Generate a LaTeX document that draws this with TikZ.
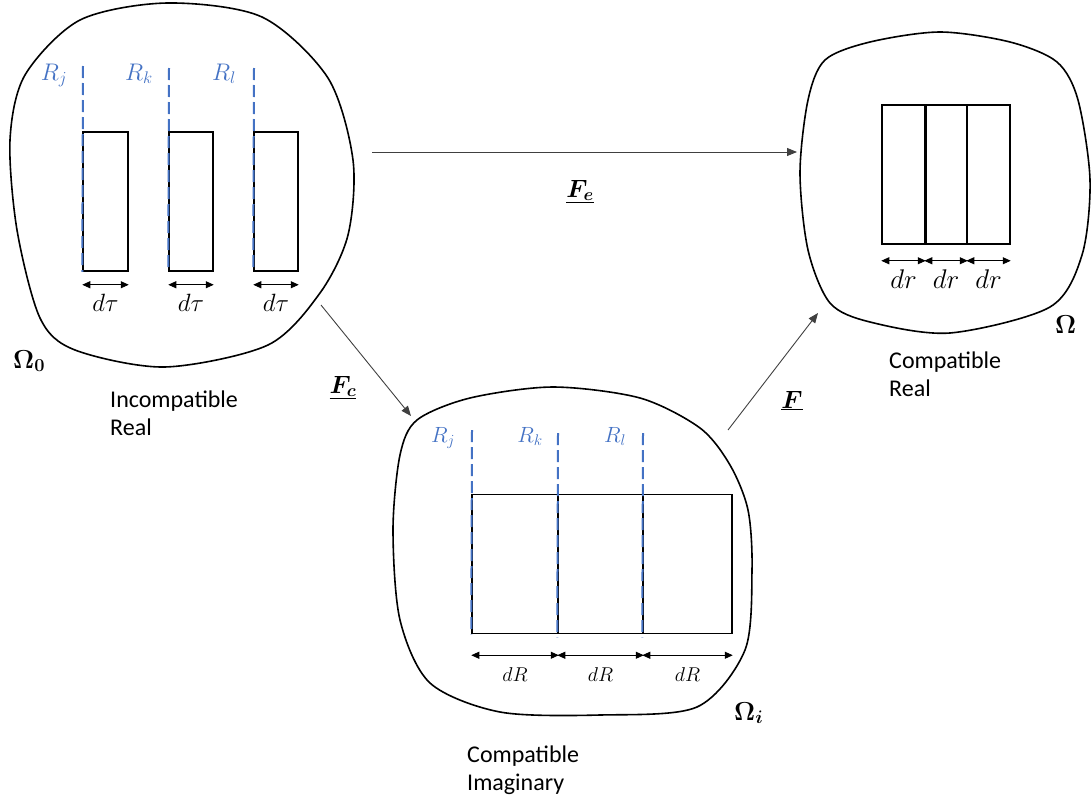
\RequirePackage{fix-cm}
\documentclass[tikz,border=0pt]{standalone}
\usepackage[no-math]{fontspec}
\setmainfont{Carlito}
\usepackage{bm}
\usetikzlibrary{arrows.meta}
\definecolor{refblue}{HTML}{4472C4}
\begin{document}
\begin{tikzpicture}[x=1pt,y=-1pt,
        blob/.style={line width=1.6pt, line join=round},
        cell/.style={draw, line width=1.5pt, minimum height=139pt, inner sep=0pt},
        refline/.style={refblue, line width=2pt, dash pattern=on 12pt off 5pt},
        dim/.style={line width=0.9pt, {Triangle[length=8pt,width=7pt]}-{Triangle[length=8pt,width=7pt]}},
        map/.style={line width=0.9pt, black!75, -{Triangle[length=10pt,width=8pt]}},
        lab/.style={inner sep=0pt, anchor=base, font=\fontsize{24}{28}\selectfont},
        txt/.style={inner sep=0pt, anchor=north west, align=left, font=\fontsize{24}{28}\selectfont}]
        \useasboundingbox (0,0) rectangle (1091,803);

        % incompatible real body
        \draw[blob] plot[smooth cycle] coordinates {(167,3) (262,17) (328,78) (353,160)
                (348,235) (320,293) (268,345) (165,367) (75,350) (40,318) (17,230)
                (10,140) (25,75) (80,20)};
        \node[cell, minimum width=45pt] (a1) at (105.5,201.5) {};
        \node[cell, minimum width=44pt] (a2) at (191,201.5) {};
        \node[cell, minimum width=44pt] (a3) at (276,201.5) {};
        \coordinate (ra1) at (83,66);
        \coordinate (ra2) at (169,68);
        \coordinate (ra3) at (254,68);
        \draw[refline] (ra1) -- (a1.south west);
        \draw[refline] (ra2) -- (a2.south west);
        \draw[refline] (ra3) -- (a3.south west);
        \node[lab, refblue] (rja) at (54,80) {$R_j$};
        \node[lab, refblue] (rka) at (139,80) {$R_k$};
        \node[lab, refblue] (rla) at (224,80) {$R_l$};
        \draw[dim] ([yshift=-13pt]a1.south west) -- ([yshift=-13pt]a1.south east);
        \draw[dim] ([yshift=-13pt]a2.south west) -- ([yshift=-13pt]a2.south east);
        \draw[dim] ([yshift=-13pt]a3.south west) -- ([yshift=-13pt]a3.south east);
        \node[lab, font=\fontsize{25}{29}\selectfont] (dta1) at ([yshift=-40pt]a1.south) {$d\tau$};
        \node[lab, font=\fontsize{25}{29}\selectfont] (dta2) at ([yshift=-40pt]a2.south) {$d\tau$};
        \node[lab, font=\fontsize{25}{29}\selectfont] (dta3) at ([yshift=-40pt]a3.south) {$d\tau$};
        \node[lab, anchor=base west, font=\fontsize{26}{30}\selectfont] (om0) at (13,368) {$\bm{\Omega_0}$};
        \node[txt] (incomp) at (110,391) {Incompatible\\Real};

        % compatible real body
        \draw[blob] plot[smooth cycle] coordinates {(940,32) (1010,42) (1057,62) (1078,100)
                (1090,180) (1082,255) (1050,307) (950,333) (870,322) (830,303) (808,250)
                (800,173) (808,100) (825,60) (870,42)};
        \node[cell, minimum width=43pt] (b1) at (903.5,174.5) {};
        \node[cell, minimum width=42pt] (b2) at (946,174.5) {};
        \node[cell, minimum width=43pt] (b3) at (988.5,174.5) {};
        \draw[line width=1.8pt] (b1.north east) -- (b1.south east);
        \draw[dim] ([yshift=-16pt]b1.south west) -- ([yshift=-16pt]b1.south east);
        \draw[dim] ([yshift=-16pt]b2.south west) -- ([yshift=-16pt]b2.south east);
        \draw[dim] ([yshift=-16pt]b3.south west) -- ([yshift=-16pt]b3.south east);
        \node[lab, font=\fontsize{27}{31}\selectfont] (drb1) at ([yshift=-44pt]b1.south) {$dr$};
        \node[lab, font=\fontsize{27}{31}\selectfont] (drb2) at ([yshift=-44pt]b2.south) {$dr$};
        \node[lab, font=\fontsize{27}{31}\selectfont] (drb3) at ([yshift=-44pt]b3.south) {$dr$};
        \node[lab, anchor=base west, font=\fontsize{26}{30}\selectfont] (om) at (1055,333) {$\bm{\Omega}$};
        \node[txt] (compreal) at (889,352) {Compatible\\Real};

        % compatible imaginary body
        \draw[blob] plot[smooth cycle] coordinates {(553,387) (640,398) (700,428) (730,465)
                (748,510) (752,570) (745,650) (697,707) (600,715) (500,712) (430,683)
                (400,620) (393,530) (400,455) (417,420) (470,398)};
        \node[cell, minimum width=86pt] (c1) at (515,564) {};
        \node[cell, minimum width=85pt] (c2) at (600.5,564) {};
        \node[cell, minimum width=89pt] (c3) at (687.5,564) {};
        \coordinate (rc1) at (472,430);
        \coordinate (rc2) at (558,433);
        \coordinate (rc3) at (643,433);
        \draw[refline] (rc1) -- (c1.south west);
        \draw[refline] (rc2) -- ([yshift=-3pt]c2.south west);
        \draw[refline] (rc3) -- ([yshift=-3pt]c3.south west);
        \node[lab, refblue, font=\fontsize{22}{26}\selectfont] (rjc) at (443,442) {$R_j$};
        \node[lab, refblue, font=\fontsize{22}{26}\selectfont] (rkc) at (530,442) {$R_k$};
        \node[lab, refblue, font=\fontsize{22}{26}\selectfont] (rlc) at (615,442) {$R_l$};
        \draw[dim] ([yshift=-21pt]c1.south west) -- ([yshift=-21pt]c1.south east);
        \draw[dim] ([yshift=-21pt]c2.south west) -- ([yshift=-21pt]c2.south east);
        \draw[dim] ([yshift=-21pt]c3.south west) -- ([yshift=-21pt]c3.south east);
        \node[lab, font=\fontsize{20}{24}\selectfont] (drc1) at ([yshift=-47pt]c1.south) {$dR$};
        \node[lab, font=\fontsize{20}{24}\selectfont] (drc2) at ([yshift=-47pt]c2.south) {$dR$};
        \node[lab, font=\fontsize{20}{24}\selectfont] (drc3) at ([yshift=-47pt]c3.south) {$dR$};
        \node[lab, anchor=base west, font=\fontsize{26}{30}\selectfont] (omi) at (734,720) {$\bm{\Omega_i}$};
        \node[txt] (compimag) at (467,746) {Compatible\\Imaginary};

        % maps between the bodies
        \coordinate (fe0) at (372,152);
        \coordinate (fe1) at (797,152);
        \coordinate (fc0) at (321,305);
        \coordinate (fc1) at (411,416);
        \coordinate (f0) at (728,430);
        \coordinate (f1) at (818,313);
        \draw[map] (fe0) -- (fe1);
        \draw[map] (fc0) -- (fc1);
        \draw[map] (f0) -- (f1);
        \node[lab, font=\fontsize{25}{29}\selectfont] (fe) at (580,197) {$\underline{\bm{F_e}}$};
        \node[lab, font=\fontsize{25}{29}\selectfont] (fc) at (343,393) {$\underline{\bm{F_c}}$};
        \node[lab, font=\fontsize{25}{29}\selectfont] (fmap) at (792,408) {$\underline{\bm{F}}$};
\end{tikzpicture}
\end{document}
